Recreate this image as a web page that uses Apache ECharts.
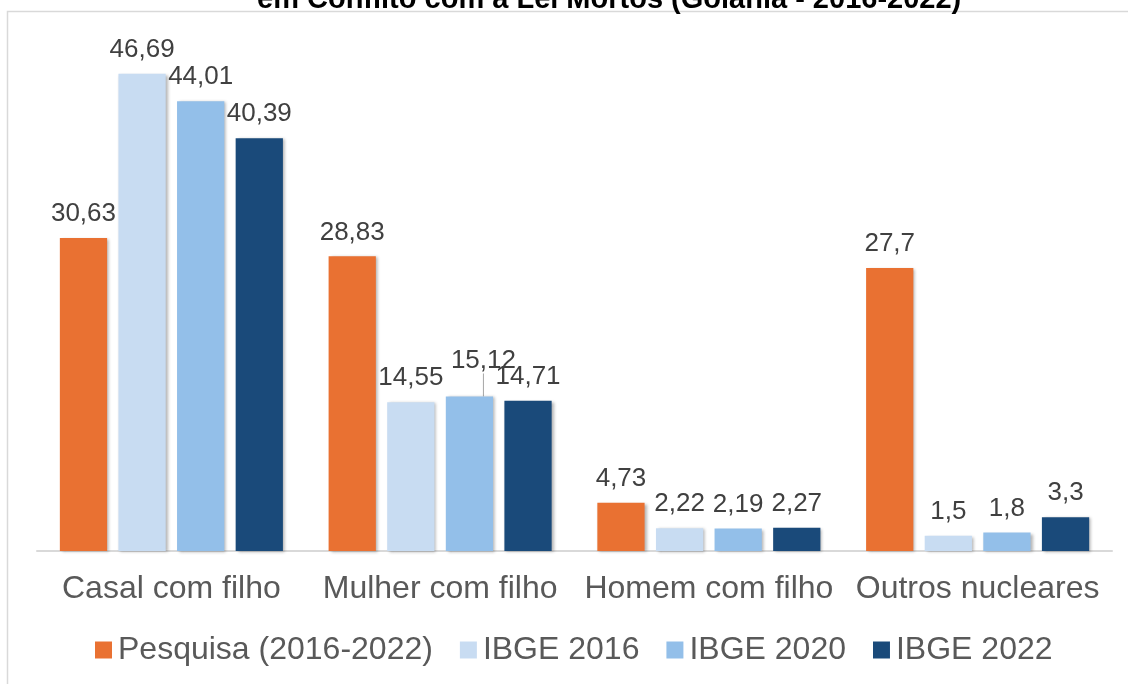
<!DOCTYPE html>
<html>
<head>
<meta charset="utf-8">
<script src="https://cdn.jsdelivr.net/npm/echarts@6/dist/echarts.min.js"></script>
<style>
  html, body { margin: 0; padding: 0; background: #fff; }
  #chart { width: 1128px; height: 684px; }
</style>
</head>
<body>
<div id="chart"></div>
<script>
const categories = ["Casal com filho", "Mulher com filho", "Homem com filho", "Outros nucleares"];
const seriesNames = ["Pesquisa (2016-2022)", "IBGE 2016", "IBGE 2020", "IBGE 2022"];
const pesquisa = [30.63, 28.83, 4.73, 27.7];
const ibge2016 = [46.69, 14.55, 2.22, 1.5];
const ibge2020 = [44.01, 15.12, 2.19, 1.8];
const ibge2022 = [40.39, 14.71, 2.27, 3.3];
const colors = ["#e97132", "#c8dcf2", "#93bfe9", "#1a4a7a"];

const font = "'Liberation Sans', Arial, sans-serif";
let myChart = echarts.init(document.getElementById("chart"));

const allValues = [pesquisa, ibge2016, ibge2020, ibge2022];

let series = allValues.map((vals, i) => ({
  name: seriesNames[i],
  type: "bar",
  barGap: "24%",
  barCategoryGap: "17%",
  itemStyle: {
    color: colors[i],
    shadowBlur: 3,
    shadowOffsetX: 2,
    shadowOffsetY: 1,
    shadowColor: "rgba(0,0,0,0.3)",
  },
  label: {
    show: true,
    position: "top",
    distance: 11,
    fontFamily: font,
    fontSize: 26,
    color: "#404040",
    formatter: function (p) {
      return String(p.value).replace(".", ",");
    },
  },
  labelLine: {
    show: false,
    lineStyle: { color: "#a6a6a6", width: 1 },
  },
  data: vals.map((v, j) =>
    i === 2 && j === 1 ? { value: v, labelLine: { show: true } } : v
  ),
}));

let option = {
  animation: false,
  color: colors,
  title: {
    text: "em Conflito com a Lei Mortos (Goiânia - 2016-2022)",
    left: 257,
    top: -15,
    padding: 0,
    textStyle: {
      fontFamily: font,
      fontSize: 29,
      fontWeight: "bold",
      color: "#000",
    },
  },
  graphic: [
    {
      type: "rect",
      z: -1,
      shape: { x: 7.5, y: 11.5, width: 1200, height: 700 },
      style: { fill: "none", stroke: "#d9d9d9", lineWidth: 1.5 },
    },
  ],
  grid: {
    left: 37,
    right: 16,
    top: 40,
    bottom: 133,
  },
  legend: {
    left: 95,
    top: 634,
    padding: 0,
    icon: "rect",
    itemWidth: 17,
    itemHeight: 17,
    itemGap: 27,
    textStyle: {
      fontFamily: font,
      fontSize: 32,
      color: "#595959",
      padding: [0, 0, 0, 1],
    },
    data: seriesNames,
  },
  xAxis: {
    type: "category",
    data: categories,
    axisLine: { lineStyle: { color: "#d9d9d9", width: 2 } },
    axisTick: { show: false },
    axisLabel: {
      interval: 0,
      fontFamily: font,
      fontSize: 32,
      color: "#595959",
      margin: 22,
    },
  },
  yAxis: {
    type: "value",
    min: 0,
    max: 50,
    show: false,
    splitLine: { show: false },
  },
  labelLayout: function (params) {
    if (params.seriesIndex === 2 && params.dataIndex === 1) {
      return { dx: 14, dy: -12 };
    }
  },
  series: series,
};

myChart.setOption(option);
</script>
</body>
</html>
